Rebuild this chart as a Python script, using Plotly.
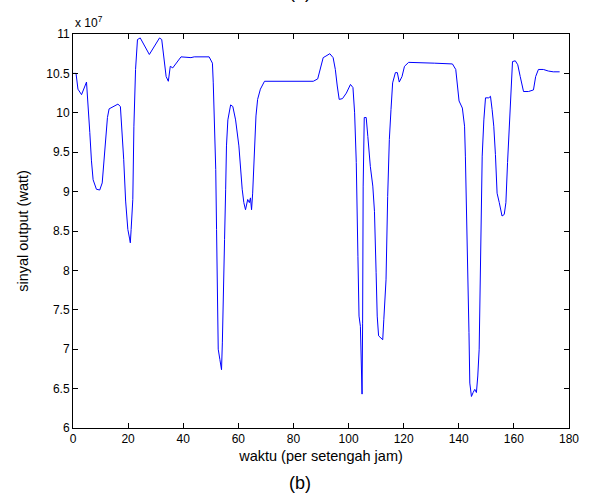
import plotly.graph_objects as go

# waktu (per setengah jam) and sinyal output in units of 1e7 watt
waktu = [0, 1.1, 1.8, 3.1, 4.9, 5.2, 6.1, 6.7, 7.3, 8.5, 9.7, 10.6, 11.3, 11.9, 12.5, 13.1,
         14.5, 16.3, 17.2, 17.8, 18.4, 19.1, 19.9, 20.5, 20.8, 21.1, 21.7, 22.1, 22.7, 23.4,
         24.4, 27.7, 29.5, 31.4, 32.2, 32.9, 33.8, 34.6, 35.3, 36.2, 37.4, 39.2, 42.8, 44.0,
         49.4, 50.6, 50.9, 51.4, 51.8, 52.1, 52.4, 52.7, 53.3, 53.9, 54.2, 54.5, 55.0, 55.4,
         55.7, 56.2, 57.2, 58.0, 59.0, 60.2, 60.8, 61.4, 62.0, 62.6, 63.4, 64.0, 64.4, 64.8,
         65.2, 65.8, 66.4, 67.0, 68.0, 69.5, 87.2, 88.8, 89.6, 90.8, 91.8, 93.2, 94.4, 95.2,
         95.9, 96.6, 97.8, 99.2, 100.7, 101.6, 102.2, 102.8, 103.4, 103.8, 104.3, 104.6,
         104.9, 105.1, 105.3, 105.7, 106.4, 107.0, 107.9, 108.8, 109.4, 110.0, 110.4, 110.9,
         112.4, 112.8, 113.6, 114.2, 114.8, 115.4, 116.0, 117.0, 117.7, 118.4, 119.4, 120.3,
         121.8, 131.1, 137.7, 138.9, 139.5, 140.1, 141.3, 142.1, 142.4, 142.8, 143.3, 143.7,
         144.0, 144.6, 145.2, 145.8, 146.4, 146.9, 147.4, 147.8, 148.1, 148.5, 149.1, 149.7,
         150.9, 151.5, 152.1, 152.7, 153.3, 153.9, 154.7, 155.7, 156.5, 157.1, 157.7, 158.3,
         158.9, 159.5, 160.5, 161.4, 162.3, 163.5, 165.3, 167.1, 167.9, 168.9, 170.7, 172.5,
         174.3, 176.6]
sinyal_1e7 = [10.50, 10.50, 10.30, 10.23, 10.39, 10.25, 9.75, 9.39, 9.15, 9.03, 9.02, 9.11,
              9.45, 9.75, 9.94, 10.05, 10.08, 10.11, 10.08, 9.79, 9.41, 8.88, 8.52, 8.41, 8.35,
              8.52, 8.90, 9.83, 10.55, 10.93, 10.95, 10.74, 10.85, 10.95, 10.93, 10.72, 10.46,
              10.40, 10.59, 10.57, 10.63, 10.71, 10.70, 10.71, 10.71, 10.63, 10.38, 9.83, 9.28,
              8.52, 7.42, 7.00, 6.87, 6.74, 7.08, 7.76, 8.39, 9.03, 9.58, 9.91, 10.10, 10.08,
              9.91, 9.58, 9.24, 9.03, 8.86, 8.77, 8.90, 8.86, 8.92, 8.77, 8.98, 9.45, 9.96,
              10.17, 10.30, 10.40, 10.40, 10.43, 10.53, 10.70, 10.72, 10.75, 10.70, 10.55,
              10.34, 10.17, 10.18, 10.25, 10.36, 10.32, 10.00, 9.37, 8.18, 7.42, 7.29, 6.66,
              6.43, 7.33, 9.07, 9.94, 9.94, 9.70, 9.32, 9.07, 8.75, 7.97, 7.42, 7.17, 7.12,
              7.38, 7.88, 8.94, 9.66, 10.04, 10.38, 10.51, 10.51, 10.39, 10.46, 10.59, 10.64,
              10.63, 10.62, 10.55, 10.30, 10.15, 10.06, 9.83, 9.45, 8.86, 8.01, 7.21, 6.57,
              6.40, 6.45, 6.49, 6.45, 6.66, 7.00, 7.88, 8.39, 9.45, 9.91, 10.19, 10.19, 10.21,
              10.04, 9.83, 9.47, 8.98, 8.86, 8.69, 8.71, 8.86, 9.37, 9.79, 10.21, 10.65, 10.66,
              10.61, 10.46, 10.27, 10.27, 10.29, 10.46, 10.55, 10.55, 10.53, 10.52, 10.52]

x_ticks = [0, 20, 40, 60, 80, 100, 120, 140, 160, 180]
y_ticks = [6, 6.5, 7, 7.5, 8, 8.5, 9, 9.5, 10, 10.5, 11]
y_tick_text = ["6", "6.5", "7", "7.5", "8", "8.5", "9", "9.5", "10", "10.5", "11"]

FONT = "Liberation Sans, Arial, sans-serif"

fig = go.Figure()
fig.add_trace(go.Scatter(x=waktu, y=sinyal_1e7, mode="lines",
                         line=dict(color="#0000ff", width=1), showlegend=False))

axis_common = dict(showline=True, linecolor="black", linewidth=1, mirror="allticks",
                   ticks="inside", ticklen=5, tickcolor="black", showgrid=False,
                   zeroline=False, tickfont=dict(family=FONT, size=12, color="black"))

fig.update_xaxes(range=[0, 180], tickvals=x_ticks, **axis_common,
                 title=dict(text="waktu (per setengah jam)", standoff=5,
                            font=dict(family=FONT, size=14.5, color="black")))
fig.update_yaxes(range=[6, 11], tickvals=y_ticks, ticktext=y_tick_text, **axis_common,
                 title=dict(text="sinyal output (watt)", standoff=14,
                            font=dict(family=FONT, size=14.5, color="black")))

fig.add_annotation(text="x 10<sup>7</sup>", xref="paper", yref="paper", x=0, y=1.0,
                   xanchor="left", yanchor="bottom", showarrow=False, yshift=2,
                   font=dict(family=FONT, size=12, color="black"))
fig.add_annotation(text="(b)", xref="paper", yref="paper", x=(301 - 73) / 499, y=-0.11,
                   xanchor="center", yanchor="top", showarrow=False,
                   font=dict(family=FONT, size=18, color="black"))
fig.add_annotation(text="(a)", xref="paper", yref="paper", x=(301 - 73) / 499, y=1.075,
                   xanchor="center", yanchor="bottom", showarrow=False,
                   font=dict(family=FONT, size=18, color="black"))

fig.update_layout(width=591, height=500, margin=dict(l=73, r=19, t=34, b=72),
                  paper_bgcolor="white", plot_bgcolor="white")

fig.write_html("out.html")
